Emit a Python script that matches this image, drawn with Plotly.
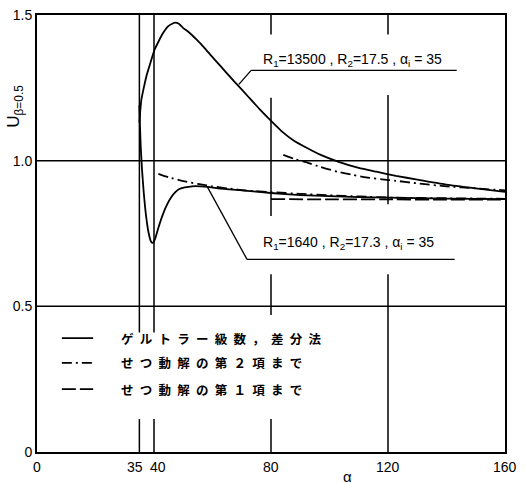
import plotly.graph_objects as go

# ---- data ----
# R1=13500 Goertler series / finite difference (solid)
alpha_g1 = [35, 35.3, 35.7, 36.5, 37.4, 38.6, 40.2, 41.6, 43.1, 44.8, 46.2, 47.3, 48.5, 49.9,
            52, 54.5, 57, 60.2, 63, 65.8, 69, 72, 76, 80.7, 84, 87.6, 92, 97, 102.9, 110,
            116, 122.7, 130, 140, 150, 160]
u_g1 = [1.13, 1.17, 1.21, 1.25, 1.29, 1.33, 1.381, 1.41, 1.438, 1.461, 1.47, 1.474, 1.47, 1.456,
        1.44, 1.416, 1.39, 1.353, 1.322, 1.29, 1.255, 1.222, 1.178, 1.13, 1.098, 1.07, 1.045,
        1.02, 0.997, 0.975, 0.962, 0.948, 0.935, 0.918, 0.905, 0.893]

# R1=1640 Goertler series / finite difference (solid)
alpha_g2 = [35, 35.2, 35.5, 35.9, 36.5, 37.3, 38.2, 39.0, 39.6, 40.3, 41.5, 43, 44.5, 46, 47.3,
            48.5, 50.5, 53, 56, 58.5, 62, 70, 80, 90, 100, 110, 120, 140, 160]
u_g2 = [1.19, 1.12, 1.04, 0.97, 0.89, 0.81, 0.75, 0.722, 0.718, 0.73, 0.77, 0.815, 0.85, 0.876,
        0.892, 0.902, 0.908, 0.912, 0.912, 0.910, 0.905, 0.898, 0.889, 0.882, 0.878, 0.875,
        0.873, 0.87, 0.868]

# perturbation solution up to 2nd term (dash-dot)
alpha_p2a = [84.2, 88, 92, 97, 102.8, 108, 112.5, 118, 122.7, 130, 140, 150, 160]
u_p2a = [1.02, 1.006, 0.995, 0.978, 0.962, 0.951, 0.943, 0.936, 0.931, 0.922, 0.912, 0.905, 0.898]
alpha_p2b = [41.5, 45, 50, 55, 60, 65, 72, 80, 90, 100, 110, 122, 140, 160]
u_p2b = [0.955, 0.943, 0.93, 0.92, 0.912, 0.905, 0.897, 0.892, 0.886, 0.881, 0.877, 0.873, 0.871, 0.869]

# perturbation solution up to 1st term (dashed)
alpha_p1 = [80, 100, 120, 140, 160]
u_p1 = [0.868, 0.867, 0.867, 0.866, 0.866]

x_ticks = [0, 35, 40, 80, 120, 160]
x_ticklabels = ["0", "35", "40", "80", "120", "160"]
y_ticks = [0, 0.5, 1.0, 1.5]
y_ticklabels = ["0", "0.5", "1.0", "1.5"]

legend_labels = ["ゲルトラー級数，差分法", "せつ動解の第２項まで", "せつ動解の第１項まで"]
label_1 = "R<sub>1</sub>=13500 , R<sub>2</sub>=17.5 , α<sub>i</sub> = 35"
label_2 = "R<sub>1</sub>=1640 , R<sub>2</sub>=17.3 , α<sub>i</sub> = 35"

# ---- styles ----
NUMF = "Liberation Sans Narrow, Liberation Sans, Arial, sans-serif"
JPF = "Noto Sans CJK JP, sans-serif"
DASHDOT = "10px,4px,2px,4px"
DASH = "14px,4px"
LW = 1.8

fig = go.Figure()
for xs, ys, dash in [(alpha_g1, u_g1, "solid"), (alpha_g2, u_g2, "solid"),
                     (alpha_p2a, u_p2a, DASHDOT), (alpha_p2b, u_p2b, DASHDOT),
                     (alpha_p1, u_p1, DASH)]:
    fig.add_trace(go.Scatter(x=xs, y=ys, mode="lines", showlegend=False,
                             line=dict(color="black", width=LW, dash=dash, shape="spline",
                                       smoothing=0.5)))

shapes = []
def seg(x0, y0, x1, y1, w=1.5):
    shapes.append(dict(type="line", xref="x", yref="y", x0=x0, y0=y0, x1=x1, y1=y1,
                       line=dict(color="black", width=w), layer="below"))

# horizontal reference lines
seg(0, 1.0, 160, 1.0)
seg(0, 0.5, 160, 0.5)
# vertical reference lines (broken as in the original)
for a in (35, 40):
    seg(a, 1.5, a, 0.41)
    seg(a, 0.113, a, 0)
seg(80, 1.5, 80, 1.433); seg(80, 1.216, 80, 0.81); seg(80, 0.61, 80, 0.47); seg(80, 0.113, 80, 0)
seg(120, 1.5, 120, 1.433); seg(120, 1.225, 120, 0.85); seg(120, 0.61, 120, 0)

# leader lines for the labels
seg(69, 1.262, 73.2, 1.31, 1.3); seg(73.2, 1.31, 143.5, 1.31, 1.3)
seg(58.2, 0.911, 71.8, 0.661, 1.3); seg(71.8, 0.661, 142.8, 0.661, 1.3)

# legend samples
leg_y = [0.391, 0.306, 0.216]
for yy, dash in zip(leg_y, ["solid", DASHDOT, DASH]):
    shapes.append(dict(type="line", xref="x", yref="y", x0=8.5, x1=19.2, y0=yy, y1=yy,
                       line=dict(color="black", width=LW, dash=dash)))

annotations = []
for yy, txt in zip(leg_y, legend_labels):
    annotations.append(dict(x=28.2, y=yy, xref="x", yref="y", xanchor="left", yanchor="middle",
                            text="\u2002".join(txt), showarrow=False,
                            font=dict(family=JPF, size=12.5, color="black", weight="bold")))
annotations.append(dict(x=76.5, y=1.345, xref="x", yref="y", xanchor="left", yanchor="middle",
                        text=label_1, showarrow=False, font=dict(family=NUMF, size=14, color="black")))
annotations.append(dict(x=76.5, y=0.718, xref="x", yref="y", xanchor="left", yanchor="middle",
                        text=label_2, showarrow=False, font=dict(family=NUMF, size=14, color="black")))
# x tick labels (35 and 40 are nudged apart as in the original)
x_shift = {35: -4, 40: 4}
for v, t in zip(x_ticks, x_ticklabels):
    annotations.append(dict(x=v, y=0, xref="x", yref="paper", xanchor="center", yanchor="top",
                            yshift=-5, xshift=x_shift.get(v, 0), text=t, showarrow=False,
                            font=dict(family=NUMF, size=14, color="black")))
# axis titles
annotations.append(dict(x=(347 - 37) / 468, y=-0.057, xref="paper", yref="paper",
                        xanchor="center", yanchor="middle", text="α", showarrow=False,
                        font=dict(family=NUMF, size=15, color="black")))
annotations.append(dict(x=-0.047, y=0.79, xref="paper", yref="paper", textangle=-90,
                        xanchor="center", yanchor="middle", text="U<sub>β=0.5</sub>",
                        showarrow=False, font=dict(family=NUMF, size=17, color="black")))

fig.update_layout(
    width=525, height=484,
    margin=dict(l=37, r=20, t=15, b=32, autoexpand=False),
    paper_bgcolor="white", plot_bgcolor="white",
    shapes=shapes, annotations=annotations,
    xaxis=dict(range=[0, 160], showticklabels=False, showgrid=False, automargin=False,
               zeroline=False, showline=True, mirror=True, linecolor="black", linewidth=2,
               ticks=""),
    yaxis=dict(range=[0, 1.5], tickvals=y_ticks, ticktext=y_ticklabels, showgrid=False,
               automargin=False, zeroline=False, showline=True, mirror=True,
               linecolor="black", linewidth=2, ticks="",
               tickfont=dict(family=NUMF, size=14, color="black")),
)

fig.write_html("out.html")
